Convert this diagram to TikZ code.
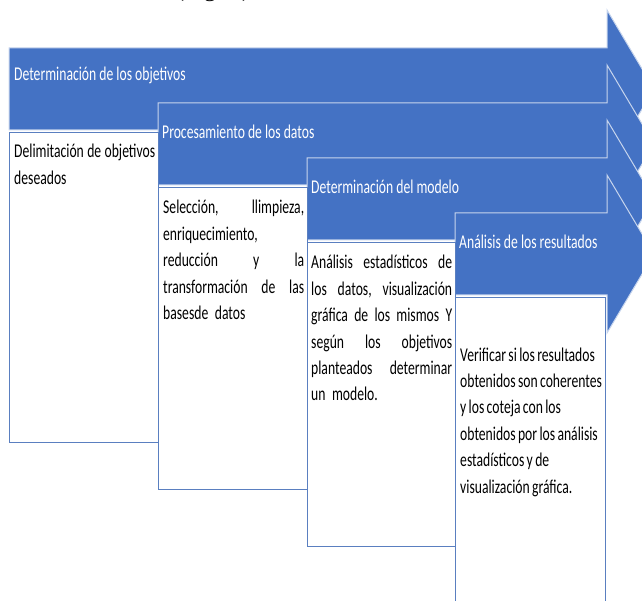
\documentclass[tikz,border=0pt]{standalone}
\usepackage{fontspec}
\setmainfont{Carlito}[FakeStretch=0.70]
\newfontfamily\figfont{Liberation Serif}
\usetikzlibrary{positioning}
\hyphenpenalty=10000
\definecolor{bandblue}{HTML}{4472C4}
\definecolor{boxline}{HTML}{5A7FC0}
\tikzset{
    band/.style={fill=bandblue, draw=bandblue!30, line width=1pt},
    stepbox/.style={draw=boxline, fill=white, line width=1.1pt, anchor=north west, inner sep=0pt},
    steptitle/.style={anchor=base west, inner sep=0pt, text=white, font=\fontsize{19.5}{26.4}\selectfont},
    steptext/.style={anchor=base west, inner sep=0pt, text width=141pt, align=left, font=\fontsize{19.5}{26.4}\selectfont}
}

\begin{document}
\begin{tikzpicture}[x=1pt,y=-1pt]
\useasboundingbox (0,0) rectangle (642,601);
\clip (0,0) rectangle (642,601);

\node[anchor=base west, inner sep=0pt, font=\figfont\fontsize{24}{28}\selectfont] (figref) at (176,-3.5) {(Fig. 1),};

% the four arrows
\draw[band] (9,48) -- (607,48) -- (607,10) -- (654,89) -- (607,168) -- (607,130) -- (9,130) -- cycle;
\draw[band] (158,103) -- (607,103) -- (607,65) -- (654,144) -- (607,223) -- (607,185) -- (158,185) -- cycle;
\draw[band] (307,158) -- (607,158) -- (607,120) -- (654,199) -- (607,278) -- (607,240) -- (307,240) -- cycle;
\draw[band] (455,213) -- (607,213) -- (607,175) -- (654,254) -- (607,333) -- (607,295) -- (455,295) -- cycle;

\node[steptitle] (title1) at (14,81) {Determinación de los objetivos};
\node[steptitle] (title2) at (162,139) {Procesamiento de los datos};
\node[steptitle] (title3) at (311,194) {Determinación del modelo};
\node[steptitle] (title4) at (459,249) {Análisis de los resultados};

% boxes below
\node[stepbox, minimum width=149pt, minimum height=310pt] (box1) at (9,132) {};
\node[stepbox, minimum width=149pt, minimum height=302pt] (box2) at (158,187) {};
\node[stepbox, minimum width=148pt, minimum height=304pt] (box3) at (307,242) {};
\node[stepbox, minimum width=150pt, minimum height=330pt] (box4) at (455,297) {};

\node[steptext] (text1) at ([xshift=5pt,yshift=-26pt]box1.north west)
    {Delimitación\hfill de\hfill objetivos\\ deseados};
\node[steptext] (text2) at ([xshift=5pt,yshift=-27pt]box2.north west)
    {Selección,\hfill llimpieza,\\ enriquecimiento,\\ reducción\hfill y\hfill la\\ transformación\hfill de\hfill las\\ basesde datos};
\node[steptext] (text3) at ([xshift=4pt,yshift=-27pt]box3.north west)
    {Análisis\hfill estadísticos\hfill de\\ los\hfill datos,\hfill visualización\\ gráfica\hfill de\hfill los\hfill mismos\hfill Y\\ según\hfill los\hfill objetivos\\ planteados\hfill determinar\\ un modelo.};
\node[steptext, text width=148pt] (text4) at ([xshift=5pt,yshift=-64pt]box4.north west)
    {\spaceskip=0.12em plus 0.05em\relax Verificar si los resultados\\ obtenidos son coherentes\\ y los coteja con los\\ obtenidos por los análisis\\ estadísticos y de\\ visualización gráfica.};
\end{tikzpicture}
\end{document}
